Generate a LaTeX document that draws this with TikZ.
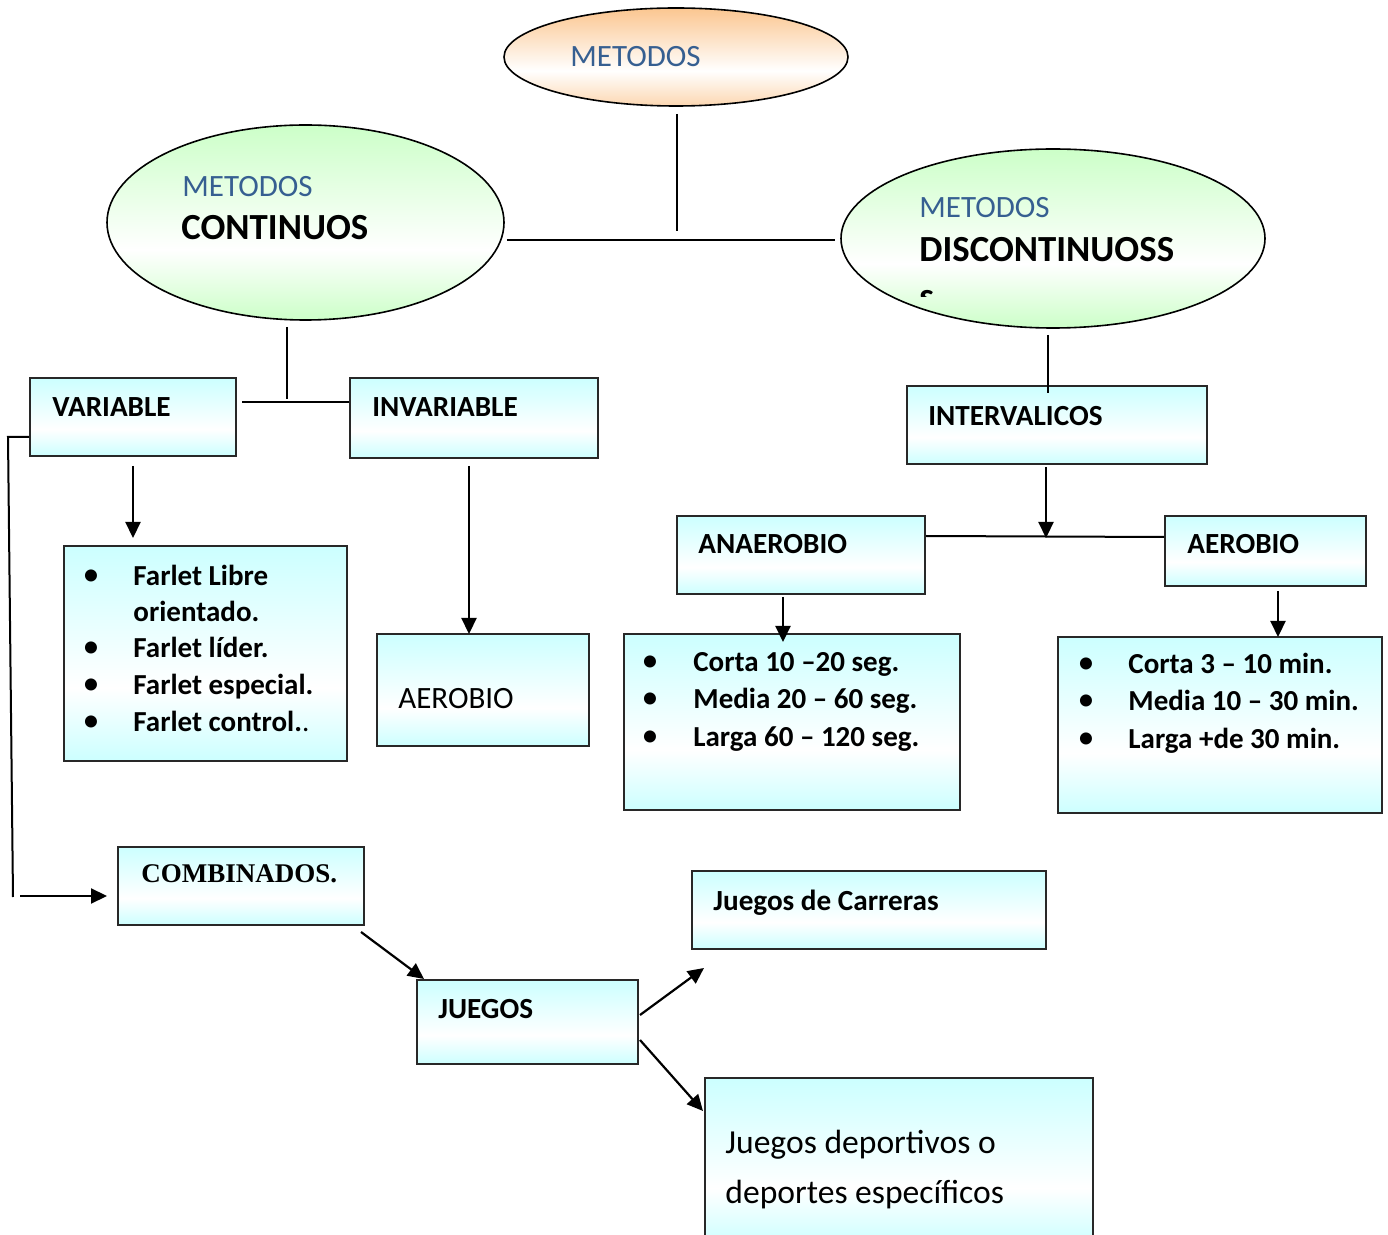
\documentclass[tikz,border=0pt]{standalone}
\usepackage{fontspec}
\setmainfont{Carlito}
\newfontfamily\timesf{Liberation Serif}
\usetikzlibrary{shapes.geometric,arrows.meta,fit,calc}
\definecolor{cyb}{RGB}{204,255,255}
\definecolor{grn}{RGB}{204,255,200}
\definecolor{org}{RGB}{251,198,144}
\definecolor{mblue}{RGB}{54,95,145}
\definecolor{bord}{RGB}{40,40,40}
\pgfdeclareverticalshading{boxsh}{100bp}{color(0bp)=(cyb); color(25bp)=(cyb); color(42bp)=(white); color(75bp)=(cyb); color(100bp)=(cyb)}
\pgfdeclareverticalshading{grnsh}{100bp}{color(0bp)=(grn); color(25bp)=(grn); color(43bp)=(white); color(75bp)=(grn); color(100bp)=(grn)}
\pgfdeclareverticalshading{orgsh}{100bp}{color(0bp)=(org!70); color(25bp)=(org!70); color(43bp)=(white); color(75bp)=(org); color(100bp)=(org)}
\begin{document}
\begin{tikzpicture}[x=0.5pt,y=-0.5pt,
  box/.style={rectangle, draw=bord, line width=1pt, shading=boxsh, inner sep=0pt},
  oval/.style={ellipse, draw=black, line width=0.8pt, inner sep=0pt},
  ttl/.style={anchor=base west, inner sep=0pt, font=\fontsize{14.6}{17}\selectfont\bfseries},
  lst/.style={anchor=base west, inner sep=0pt, font=\fontsize{14.5}{17}\selectfont\bfseries},
  bul/.style={anchor=base, inner sep=0pt, font=\fontsize{17}{18}\selectfont},
  blu/.style={anchor=base west, inner sep=0pt, text=mblue, font=\fontsize{15.5}{18}\selectfont},
  big/.style={anchor=base west, inner sep=0pt, font=\fontsize{18.4}{22}\selectfont\bfseries},
  conn/.style={line width=1pt},
  arr/.style={line width=1.1pt, -{Triangle[length=8pt,width=7.5pt]}}]
\useasboundingbox (0,0) rectangle (1388,1235);

% ellipses
\node[oval, shading=orgsh, minimum width=172pt, minimum height=49pt] (top) at (676,57) {};
\node[blu] (ttop) at (570,67) {METODOS};
\node[oval, shading=grnsh, minimum width=198.5pt, minimum height=97.5pt] (cont) at (305.5,222.5) {};
\node[blu] (tcont1) at (182,197) {METODOS};
\node[big] (tcont2) at (181,240) {CONTINUOS};
\node[oval, shading=grnsh, minimum width=212pt, minimum height=89.5pt] (disc) at (1053,238.5) {};
\node[blu] (tdisc1) at (919,218) {METODOS};
\node[big] (tdisc2) at (919,262) {DISCONTINUOSS};
\begin{scope}
\clip (900,280) rectangle (960,297);
\node[big] (tdisc3) at (919,309) {s};
\end{scope}

% boxes
\node[box, fit={(30,378) (236,456)}] (var) {};
\node[ttl] (tvar) at (52,417) {VARIABLE};
\node[box, fit={(350,378) (598,458)}] (inv) {};
\node[ttl] (tinv) at (372,417) {INVARIABLE};
\node[box, fit={(907,386) (1207,464)}] (int) {};
\node[ttl] (tint) at (928,426) {INTERVALICOS};
\node[box, fit={(677,516) (925,594)}] (ana) {};
\node[ttl] (tana) at (698,554) {ANAEROBIO};
\node[box, fit={(1165,516) (1366,586)}] (aer) {};
\node[ttl] (taer) at (1187,554) {AEROBIO};

\node[box, fit={(64,546) (347,761)}] (far) {};
\node[bul] (b1) at (91,586) {•};
\node[lst] (f1) at (133,586) {Farlet Libre};
\node[lst] (f1b) at (133,622) {orientado.};
\node[bul] (b2) at (91,658) {•};
\node[lst] (f2) at (133,658) {Farlet líder.};
\node[bul] (b3) at (91,695) {•};
\node[lst] (f3) at (133,695) {Farlet especial.};
\node[bul] (b4) at (91,732) {•};
\node[lst] (f4) at (133,732) {Farlet control.\textmd{.}};

\node[box, fit={(377,634) (589,746)}] (aer2) {};
\node[anchor=base west, inner sep=0pt, font=\fontsize{15.5}{18}\selectfont] (taer2) at (398,708) {AEROBIO};

\node[box, fit={(624,634) (960,810)}] (alist) {};
\node[bul] (c1) at (650,672) {•};
\node[lst] (a1) at (693,672) {Corta 10 –20 seg.};
\node[bul] (c2) at (650,709) {•};
\node[lst] (a2) at (693,709) {Media 20 – 60 seg.};
\node[bul] (c3) at (650,746) {•};
\node[lst] (a3) at (693,746) {Larga 60 – 120 seg.};

\node[box, fit={(1058,637) (1382,813)}] (elist) {};
\node[bul] (d1) at (1086,674) {•};
\node[lst] (e1) at (1128,674) {Corta 3 – 10 min.};
\node[bul] (d2) at (1086,711) {•};
\node[lst] (e2) at (1128,711) {Media 10 – 30 min.};
\node[bul] (d3) at (1086,748) {•};
\node[lst] (e3) at (1128,748) {Larga +de 30 min.};

\node[box, fit={(118,847) (364,925)}] (comb) {};
\node[anchor=base west, inner sep=0pt, font=\fontsize{13.5}{16}\selectfont\timesf\bfseries] (tcomb) at (141,882) {COMBINADOS.};
\node[box, fit={(417,980) (638,1064)}] (jue) {};
\node[ttl] (tjue) at (438,1018) {JUEGOS};
\node[box, fit={(692,871) (1046,949)}] (car) {};
\node[ttl] (tcar) at (713,910) {Juegos de Carreras};
\node[box, fit={(705,1078) (1093,1245)}] (dep) {};
\node[anchor=base west, inner sep=0pt, font=\fontsize{16.8}{25}\selectfont] (tdep1) at (725,1153) {Juegos deportivos o};
\node[anchor=base west, inner sep=0pt, font=\fontsize{16.8}{25}\selectfont] (tdep2) at (725,1203) {deportes específicos};

% connectors
\draw[conn] ($(top.south)+(1,7)$) -- ($(top.south)+(1,124)$);
\draw[conn] ($(cont.east)+(2,17.5)$) coordinate (h1) -- ($(disc.west)+(-5,1.5)$) coordinate (h2);
\draw[conn] ($(cont.south)+(-18.5,6)$) -- ($(cont.south)+(-18.5,78)$);
\draw[conn] ($(var.east)+(5,-15)$) -- ($(inv.west)+(0,-16)$);
\draw[conn] ($(disc.south)+(-5,6)$) -- ($(disc.south)+(-5,64)$);
\draw[arr] ($(int.south)+(-11,2)$) -- ($(int.south)+(-11,73)$);
\draw[conn] ($(ana.east)+(0,-19)$) -- ($(aer.west)+(0,-14)$);
\draw[arr] ($(ana.south)+(-18,2)$) -- ($(ana.south)+(-18,47)$);
\draw[arr] ($(aer.south)+(12.5,4)$) -- ($(aer.south)+(12.5,50)$);
\draw[arr] ($(var.south)+(0,9)$) -- ($(var.south)+(0,81)$);
\draw[arr] ($(inv.south)+(-5,7)$) -- ($(inv.south)+(-5,175)$);
\draw[conn] ($(var.west)+(0,20)$) -- (8,437) -- (13,897) coordinate (lb);
\draw[arr] (20,896) -- ($(comb.west)+(-10,10)$);
\draw[arr] ($(comb.south east)+(-4,6)$) -- ($(jue.north west)+(8,0)$);
\draw[arr] ($(jue.east)+(1,-7)$) -- ($(car.south west)+(13,18)$);
\draw[arr] ($(jue.east)+(1,18)$) -- ($(dep.north west)+(-1,34)$);
\end{tikzpicture}
\end{document}
